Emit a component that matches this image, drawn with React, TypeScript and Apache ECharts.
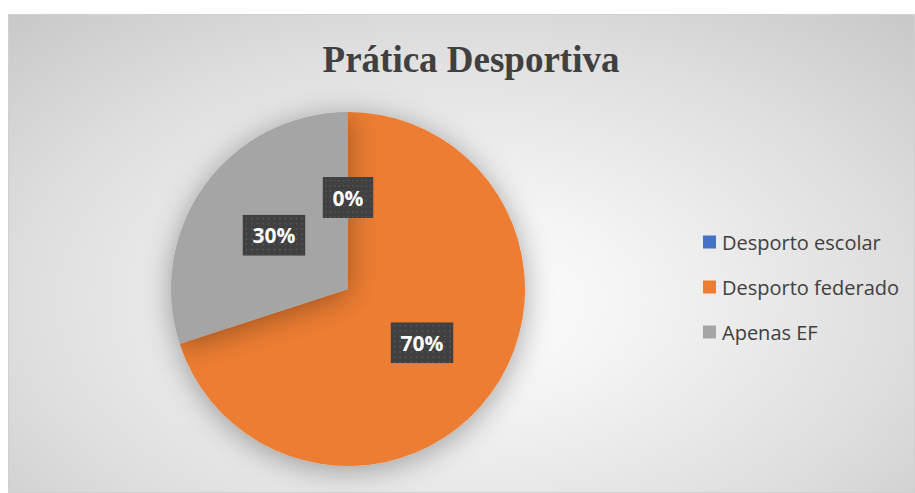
import React, { useEffect, useRef } from "react";
import * as echarts from "echarts";

const categories = ["Desporto escolar", "Desporto federado", "Apenas EF"];
const values = [0, 70, 30];
const colors = ["#4472C4", "#ED7D31", "#A5A5A5"];
const titleText = "Prática Desportiva";

function dotPattern(w: number, h: number): string {
  let dots = "";
  for (let y = 3; y < h; y += 5.3) {
    for (let x = 3; x < w; x += 5.3) {
      dots += `<rect x='${x.toFixed(1)}' y='${y.toFixed(1)}' width='1.6' height='1.6' fill='#575757'/>`;
    }
  }
  const svg = `<svg xmlns='http://www.w3.org/2000/svg' width='${w}' height='${h}'><rect width='${w}' height='${h}' fill='#404040'/>${dots}</svg>`;
  return "data:image/svg+xml;charset=utf-8," + encodeURIComponent(svg);
}

export default function App() {
  const ref = useRef<HTMLDivElement>(null);
  useEffect(() => {
    if (!ref.current) return;
    const chart = echarts.init(ref.current, null, { renderer: "svg" });
    const bg = dotPattern(60, 42);
    chart.setOption({
      animation: false,
      title: {
        text: titleText,
        left: 457,
        top: 21,
        textAlign: "center",
        textStyle: {
          fontFamily: "Liberation Serif",
          fontWeight: "bold",
          fontSize: 37,
          color: "#404040",
        },
      },
      legend: {
        orient: "vertical",
        left: 689,
        top: 212,
        itemGap: 25,
        itemWidth: 13,
        itemHeight: 13,
        icon: "rect",
        selectedMode: false,
        data: categories,
        textStyle: {
          fontFamily: "Open Sans",
          fontSize: 20,
          color: "#404040",
          padding: [0, 0, 0, 1],
        },
      },
      series: [
        {
          type: "pie",
          center: [339, 274],
          radius: 177,
          startAngle: 90,
          clockwise: true,
          silent: true,
          emphasis: { disabled: true },
          itemStyle: {
            shadowBlur: 30,
            shadowColor: "rgba(0,0,0,0.35)",
            shadowOffsetY: 4,
          },
          label: {
            show: true,
            position: "inside",
            formatter: (p: any) => `${Math.round(p.percent)}%`,
            color: "#ffffff",
            fontFamily: "Open Sans",
            fontWeight: "bold",
            fontSize: 21,
            lineHeight: 23,
            padding: [9, 10],
            backgroundColor: { image: bg },
            shadowBlur: 5,
            shadowColor: "rgba(0,0,0,0.45)",
            shadowOffsetX: 3,
            shadowOffsetY: 3,
          },
          labelLine: { show: false },
          data: categories.map((name, i) => ({
            name,
            value: values[i],
            itemStyle: { color: colors[i] },
          })),
        },
      ],
    });
    return () => chart.dispose();
  }, []);
  return (
    <div
      style={{
        position: "absolute",
        left: 0,
        top: 0,
        width: 915,
        height: 493,
        background: "#ffffff",
        overflow: "hidden",
      }}
    >
      <div
        ref={ref}
        style={{
          position: "absolute",
          left: 8,
          top: 14,
          width: 907,
          height: 479,
          boxSizing: "border-box",
          border: "1px solid #d0d0d0",
          background:
            "radial-gradient(ellipse 75% 85% at 50% 60%, #ffffff 0%, #f4f4f4 25%, #dedede 65%, #c6c6c6 100%)",
        }}
      />
    </div>
  );
}
